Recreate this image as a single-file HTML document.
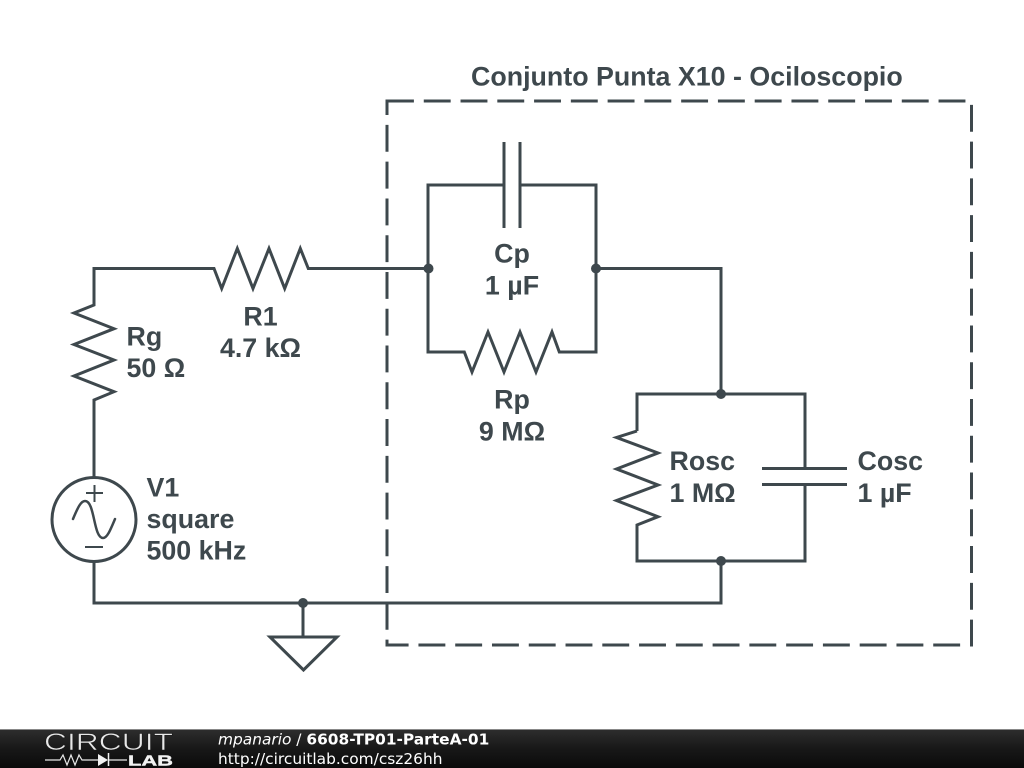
<!DOCTYPE html>
<html>
<head>
<meta charset="utf-8">
<style>
html,body{margin:0;padding:0;background:#fff;width:1024px;height:768px;overflow:hidden}
svg{display:block;position:absolute;left:0;top:0}
.t{font-family:"Liberation Sans",sans-serif;font-weight:bold;font-size:26.8px;fill:#3e484d}
.f{font-family:"DejaVu Sans",sans-serif;font-size:15.4px;fill:#fff}
</style>
</head>
<body>
<svg width="1024" height="768" viewBox="0 0 1024 768" xmlns="http://www.w3.org/2000/svg">
<defs>
<linearGradient id="g" x1="0" y1="0" x2="0" y2="1">
<stop offset="0" stop-color="#2e2e2e"/><stop offset="0.5" stop-color="#181818"/><stop offset="1" stop-color="#0a0a0a"/>
</linearGradient>
</defs>
<g fill="none" stroke="#3e484d" stroke-width="3" stroke-linejoin="miter" stroke-linecap="butt">
<path d="M387 101H971.500V645H387Z" stroke-dasharray="26.9 9.87"/>
<path d="M94 477V400L114 391.7 74 376 114 360 74 344.500 114 328.700 74 313 94 305V268.500H214L221.700 288.500 237.300 248.500 253 288.500 269 248.500 284.700 288.500 300.300 248.500 308.300 268.500H428"/>
<path d="M504 185H428V352H464.300L472 372 488 332 504 372 520 332 536 372 552 332 559.300 352H596V185H520"/>
<path d="M504 142V228M520 142V228"/>
<path d="M596 268.500H721V394"/>
<path d="M637 431V394H805V468M805 484V561H637V525L658 516.700 616.500 500.500 658 485 616.500 469 658 453 616.500 437.500 637 431"/>
<path d="M762 468.500H847M762 484.500H847"/>
<path d="M721 561V603H94V562"/>
<path d="M303 603V637M270 637H337L303.500 670Z"/>
<circle cx="94" cy="519.500" r="42"/>
<path d="M86 493H103M94.500 485V502M85 547H103" stroke-width="2"/>
<path d="M73 519C78 507 81 501 85 501C90 501 92 510 94 519C96 528 98 538 103 538C107 538 110 531 115 519" stroke-linecap="round" stroke-width="2.500"/>
</g>
<g fill="#3e484d">
<circle cx="428.500" cy="268.500" r="5"/>
<circle cx="596" cy="268.500" r="5"/>
<circle cx="721" cy="394" r="5"/>
<circle cx="721" cy="561" r="5"/>
<circle cx="303" cy="603" r="5"/>
</g>
<text class="t" x="471" y="85.500">Conjunto Punta X10 - Ociloscopio</text>
<text class="t" x="512" y="262.500" text-anchor="middle">Cp</text>
<text class="t" x="512" y="294.500" text-anchor="middle">1 µF</text>
<text class="t" x="260.500" y="325.500" text-anchor="middle">R1</text>
<text class="t" x="260.500" y="357" text-anchor="middle">4.7 kΩ</text>
<text class="t" x="512" y="408.500" text-anchor="middle">Rp</text>
<text class="t" x="512" y="440.500" text-anchor="middle">9 MΩ</text>
<text class="t" x="126.500" y="345.500">Rg</text>
<text class="t" x="126.500" y="377">50 Ω</text>
<text class="t" x="146.500" y="496.500">V1</text>
<text class="t" x="146.500" y="528">square</text>
<text class="t" x="146.500" y="559.500">500 kHz</text>
<text class="t" x="669.500" y="470">Rosc</text>
<text class="t" x="669.500" y="502">1 MΩ</text>
<text class="t" x="857.500" y="470">Cosc</text>
<text class="t" x="857.500" y="502">1 µF</text>
<rect x="0" y="729" width="1024" height="39" fill="url(#g)"/>
<rect x="0" y="729" width="1024" height="1" fill="#888"/>
<text x="44" y="750" font-family="Liberation Sans,sans-serif" font-size="24" fill="#e8e8e8" stroke="#1c1c1c" stroke-width="0.6" textLength="129" lengthAdjust="spacingAndGlyphs">CIRCUIT</text>
<text x="128" y="765.500" font-family="Liberation Sans,sans-serif" font-weight="bold" font-size="15" fill="#f2f2f2" stroke="#f2f2f2" stroke-width="0.4" textLength="45" lengthAdjust="spacingAndGlyphs">LAB</text>
<path d="M45 760H60L63 755 67 765 71 755 75 765 79 755 82 760H98M108 760H127" fill="none" stroke="#e8e8e8" stroke-width="1.200"/>
<path d="M98 754V766L108 760Z" fill="#f2f2f2"/>
<path d="M108.500 753V766" stroke="#f2f2f2" stroke-width="1.500"/>
<text class="f" x="218" y="744.500"><tspan font-style="italic">mpanario</tspan> / <tspan font-weight="bold">6608-TP01-ParteA-01</tspan></text>
<text class="f" x="218" y="764">http://circuitlab.com/csz26hh</text>
</svg>
</body>
</html>
